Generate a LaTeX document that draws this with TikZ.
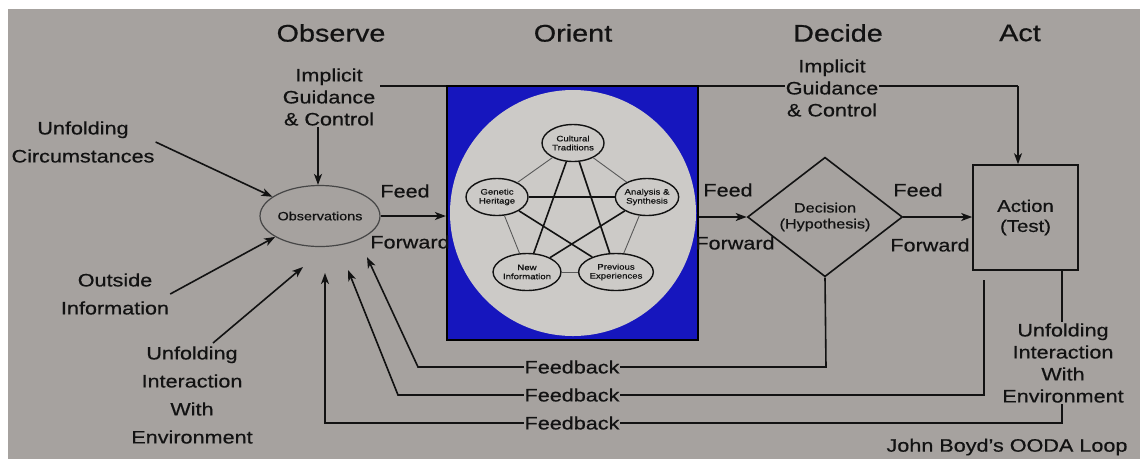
\documentclass[tikz,border=0pt]{standalone}
\usepackage{fontspec}
\setmainfont{Liberation Sans}[FakeStretch=1.2,FakeBold=0.6]
\usetikzlibrary{shapes.geometric,arrows.meta}
\pgfdeclarelayer{bglayer}
\pgfdeclarelayer{linelayer}
\pgfsetlayers{bglayer,linelayer,main}
\definecolor{bgc}{RGB}{166,162,159}
\definecolor{orblue}{RGB}{22,22,190}
\definecolor{circc}{RGB}{204,202,199}
\definecolor{txt}{RGB}{18,18,18}
\definecolor{obsline}{RGB}{70,70,70}
\tikzset{
  lbl/.style={font=\fontsize{18}{22}\selectfont, align=center, inner sep=1pt, fill=bgc, text=txt},
  lblwide/.style={font=\fontsize{18}{28}\selectfont, align=center, inner sep=1pt, text=txt},
  ttl/.style={font=\fontsize{24}{26}\selectfont, text=txt},
  flbl/.style={font=\fontsize{18}{20}\selectfont, inner sep=1pt, text=txt},
  conn/.style={line width=1.6pt, draw=txt},
  arr/.style={conn, -{Stealth[length=11pt,width=8pt,inset=3pt]}},
  inel/.style={ellipse, draw=txt, line width=1.4pt, minimum width=62pt, minimum height=37pt, inner sep=0pt, align=center, font=\fontsize{8}{9}\selectfont, text=txt},
  thinlink/.style={line width=0.9pt, draw=txt!70},
  thicklink/.style={line width=1.6pt, draw=txt},
}
\begin{document}
\begin{tikzpicture}[x=1pt,y=-1pt]
\begin{pgfonlayer}{bglayer}
\fill[white] (0,0) rectangle (1140,459);
\fill[bgc] (8,9) rectangle (1140,459);
\end{pgfonlayer}
\useasboundingbox (0,0) rectangle (1140,459);

% titles
\node[ttl] (tO) at (331,33) {Observe};
\node[ttl] (tOr) at (573,33) {Orient};
\node[ttl] (tD) at (838,33) {Decide};
\node[ttl] (tA) at (1020,33) {Act};

% orient block
\node[draw=black, fill=orblue, line width=2.2pt, minimum width=251pt, minimum height=254pt, inner sep=0pt] (orient) at (572.5,213) {};
\node[circle, fill=circc, minimum size=246pt, inner sep=0pt] (orc) at (573,213) {};
\node[inel] (cul) at (573,143) {Cultural\\Traditions};
\node[inel] (gen) at (497,197) {Genetic\\Heritage};
\node[inel] (ana) at (647,197) {Analysis \&\\Synthesis};
\node[inel] (new) at (527,272) {New\\Information};
\node[inel] (prev) at (616,272) {Previous\\Experiences};
\draw[thinlink] (cul) -- (gen);
\draw[thinlink] (cul) -- (ana);
\draw[thinlink] (gen) -- (new);
\draw[thinlink] (ana) -- (prev);
\draw[thinlink] (new) -- (prev);
\draw[thicklink] (cul) -- (new);
\draw[thicklink] (cul) -- (prev);
\draw[thicklink] (gen) -- (ana);
\draw[thicklink] (gen) -- (prev);
\draw[thicklink] (ana) -- (new);

% observe
\node[ellipse, draw=obsline, fill=bgc, line width=1.2pt, minimum width=115pt, minimum height=61pt, inner sep=0pt, font=\fontsize{12}{13}\selectfont, text=txt] (obs) at (320,216) {Observations};
\node[lbl] (igL) at (329,97) {Implicit\\Guidance\\\& Control};
\node[lblwide] (uc) at (83,142) {Unfolding\\Circumstances};
\node[lblwide] (oi) at (115,294) {Outside\\Information};
\node[lblwide] (uiL) at (192,395) {Unfolding\\Interaction\\With\\Environment};

% decide / act
\node[diamond, draw=txt, line width=1.6pt, minimum width=155pt, minimum height=112pt, inner sep=0pt, align=center, font=\fontsize{13.5}{16}\selectfont, text=txt] (dec) at (825,217) {Decision\\(Hypothesis)};
\node[draw=txt, line width=1.6pt, minimum width=105pt, minimum height=105pt, inner sep=0pt, align=center, font=\fontsize{17}{20}\selectfont, text=txt] (act) at (1025.5,217.5) {Action\\(Test)};
\node[lbl] (igR) at (832,88) {Implicit\\Guidance\\\& Control};
\node[lbl] (uiR) at (1063,363) {Unfolding\\Interaction\\With\\Environment};

% feed forward labels
\node[flbl] (ff1a) at (405,191) {Feed};
\node[flbl] (ff1b) at (410,242) {Forward};
\node[flbl] (ff2a) at (728,190) {Feed};
\node[flbl] (ff2b) at (735,243) {Forward};
\node[flbl] (ff3a) at (918,190) {Feed};
\node[flbl] (ff3b) at (930,245) {Forward};

% feedback labels
\node[lbl] (fb1) at (572,367) {Feedback};
\node[lbl] (fb2) at (572,395) {Feedback};
\node[lbl] (fb3) at (572,423) {Feedback};

\node[flbl] (jb) at (1007,447) {John Boyd's OODA Loop};

% coordinates
\coordinate (gStart) at (380,86);
\coordinate (gCorner) at (1018,86);
\coordinate (uiStart) at (213,343);
\coordinate (uiEnd) at (303,267);
\coordinate (f1a) at (826,367);
\coordinate (f1b) at (418,367);
\coordinate (f1e) at (367,257);
\coordinate (f2s) at (984,280);
\coordinate (f2a) at (984,395);
\coordinate (f2b) at (398,395);
\coordinate (f2e) at (348,270);
\coordinate (f3s) at (1062,270);
\coordinate (f3a) at (1062,423);
\coordinate (f3b) at (325,423);
\coordinate (f3e) at (325,273);

\begin{pgfonlayer}{linelayer}
\draw[arr] (obs.east) -- (obs.east -| orient.west);
\draw[arr] (dec.west -| orient.east) -- (dec.west);
\draw[arr] (dec.east) -- (dec.east -| act.west);
\draw[arr] (igL.south -| 318,0) -- (obs.north -| 318,0);
\draw[conn] (gStart) -- (gCorner);
\draw[arr] (gCorner) -- (gCorner |- act.north);
\draw[arr] (uc.east) -- (obs.158);
\draw[arr] (oi.east) -- (obs.205);
\draw[arr] (uiStart) -- (uiEnd);
\draw[arr] (dec.south) -- (f1a) -- (f1b) -- (f1e);
\draw[arr] (f2s) -- (f2a) -- (f2b) -- (f2e);
\draw[arr] (f3s) -- (f3a) -- (f3b) -- (f3e);
\end{pgfonlayer}
\end{tikzpicture}
\end{document}
